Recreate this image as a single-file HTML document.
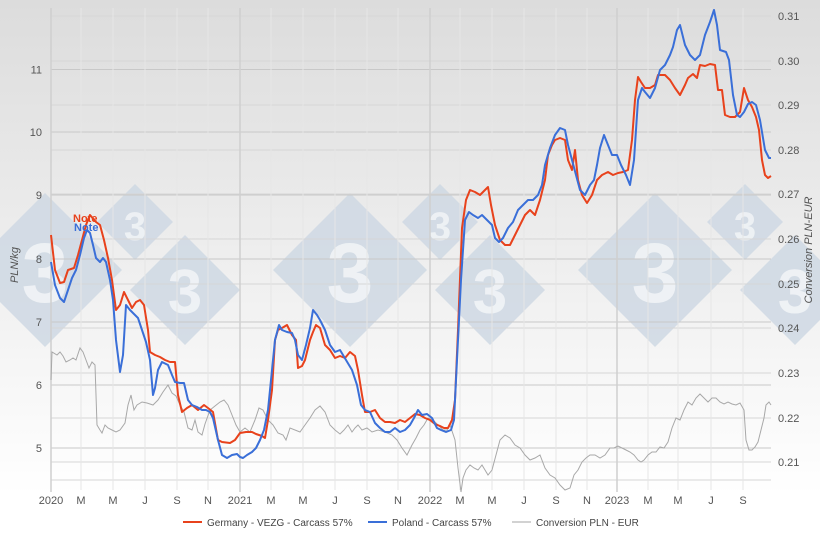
<!DOCTYPE html>
<html><head><meta charset="utf-8"><style>
body{margin:0;width:820px;height:533px;overflow:hidden;background:#fff;font-family:"Liberation Sans",sans-serif;}
</style></head><body>
<svg width="820" height="533" xmlns="http://www.w3.org/2000/svg" font-family="Liberation Sans, sans-serif">
<defs>
<linearGradient id="bg" x1="0" y1="0" x2="0" y2="1">
<stop offset="0" stop-color="#dcdcdc"/><stop offset="1" stop-color="#ffffff"/>
</linearGradient>
<g id="wm">
<polygon points="45,193 122,270 45,347 -32,270" fill="#cfd9e4"/>
<polygon points="135,184 173,222 135,260 97,222" fill="#cfd9e4"/>
<polygon points="185,235 240,290 185,345 130,290" fill="#cfd9e4"/>
<text x="45" y="302" font-size="84" font-weight="bold" fill="#eef2f6" text-anchor="middle">3</text>
<text x="135" y="240" font-size="40" font-weight="bold" fill="#eef2f6" text-anchor="middle">3</text>
<text x="185" y="313" font-size="62" font-weight="bold" fill="#eef2f6" text-anchor="middle">3</text>
</g>
</defs>
<rect x="0" y="0" width="820" height="533" fill="#fff"/>
<rect x="0" y="0" width="820" height="495" fill="url(#bg)"/>
<g opacity="0.85">
<use href="#wm" x="0"/><use href="#wm" x="305"/><use href="#wm" x="610"/>
</g>
<g stroke="#c8c8c8" stroke-width="1">
<line x1="51" x2="771" y1="69.5" y2="69.5"/><line x1="51" x2="771" y1="132" y2="132"/>
<line x1="51" x2="771" y1="195" y2="195"/><line x1="51" x2="771" y1="259" y2="259"/>
<line x1="51" x2="771" y1="322" y2="322"/><line x1="51" x2="771" y1="385" y2="385"/>
<line x1="51" x2="771" y1="448" y2="448"/>
</g>
<g stroke="#d6d6d6" stroke-width="1">
<line x1="51" x2="771" y1="16" y2="16"/><line x1="51" x2="771" y1="61" y2="61"/>
<line x1="51" x2="771" y1="105" y2="105"/><line x1="51" x2="771" y1="150" y2="150"/>
<line x1="51" x2="771" y1="194" y2="194"/><line x1="51" x2="771" y1="239" y2="239"/>
<line x1="51" x2="771" y1="284" y2="284"/><line x1="51" x2="771" y1="328" y2="328"/>
<line x1="51" x2="771" y1="373" y2="373"/><line x1="51" x2="771" y1="418" y2="418"/>
<line x1="51" x2="771" y1="462" y2="462"/><line x1="51" x2="771" y1="480" y2="480"/>
</g>
<g stroke="#e6e6e6" stroke-width="1">
<line x1="81" x2="81" y1="8" y2="490"/><line x1="113" x2="113" y1="8" y2="490"/>
<line x1="145" x2="145" y1="8" y2="490"/><line x1="177" x2="177" y1="8" y2="490"/>
<line x1="208" x2="208" y1="8" y2="490"/><line x1="271" x2="271" y1="8" y2="490"/>
<line x1="303" x2="303" y1="8" y2="490"/><line x1="335" x2="335" y1="8" y2="490"/>
<line x1="367" x2="367" y1="8" y2="490"/><line x1="398" x2="398" y1="8" y2="490"/>
<line x1="460" x2="460" y1="8" y2="490"/><line x1="492" x2="492" y1="8" y2="490"/>
<line x1="524" x2="524" y1="8" y2="490"/><line x1="556" x2="556" y1="8" y2="490"/>
<line x1="587" x2="587" y1="8" y2="490"/><line x1="648" x2="648" y1="8" y2="490"/>
<line x1="678" x2="678" y1="8" y2="490"/><line x1="711" x2="711" y1="8" y2="490"/>
<line x1="743" x2="743" y1="8" y2="490"/>
</g>
<g stroke="#cfcfcf" stroke-width="1.5">
<line x1="51" x2="51" y1="8" y2="492"/><line x1="240" x2="240" y1="8" y2="492"/>
<line x1="430" x2="430" y1="8" y2="492"/><line x1="617" x2="617" y1="8" y2="492"/>
</g>
<g font-size="11" fill="#555" text-anchor="end">
<text x="42" y="73.5">11</text><text x="42" y="136">10</text><text x="42" y="199">9</text>
<text x="42" y="263">8</text><text x="42" y="326">7</text><text x="42" y="389">6</text><text x="42" y="452">5</text>
</g>
<g font-size="11" fill="#555">
<text x="778" y="20">0.31</text><text x="778" y="65">0.30</text><text x="778" y="109">0.29</text>
<text x="778" y="154">0.28</text><text x="778" y="198">0.27</text><text x="778" y="243">0.26</text>
<text x="778" y="288">0.25</text><text x="778" y="332">0.24</text><text x="778" y="377">0.23</text>
<text x="778" y="422">0.22</text><text x="778" y="466">0.21</text>
</g>
<g font-size="11" fill="#555" text-anchor="middle">
<text x="51" y="504">2020</text><text x="81" y="504">M</text><text x="113" y="504">M</text><text x="145" y="504">J</text>
<text x="177" y="504">S</text><text x="208" y="504">N</text><text x="240" y="504">2021</text><text x="271" y="504">M</text>
<text x="303" y="504">M</text><text x="335" y="504">J</text><text x="367" y="504">S</text><text x="398" y="504">N</text>
<text x="430" y="504">2022</text><text x="460" y="504">M</text><text x="492" y="504">M</text><text x="524" y="504">J</text>
<text x="556" y="504">S</text><text x="587" y="504">N</text><text x="617" y="504">2023</text><text x="648" y="504">M</text>
<text x="678" y="504">M</text><text x="711" y="504">J</text><text x="743" y="504">S</text>
</g>
<text transform="translate(18,265) rotate(-90)" font-size="11" font-style="italic" fill="#555" text-anchor="middle">PLN/kg</text>
<text transform="translate(812,250) rotate(-90)" font-size="11" font-style="italic" fill="#555" text-anchor="middle">Conversion PLN-EUR</text>
<polyline fill="none" stroke="#a8a8a8" stroke-width="1" points="51,380 52,352 57,355 60,352 63,356 66,362 70,360 73,358 76,360 80,348 83,352 86,360 89,368 92,362 95,365 97,425 100,430 102,433 105,425 108,428 112,430 116,432 120,430 125,423 128,405 131,395 134,410 137,405 142,402 147,403 153,405 158,400 163,392 168,385 172,393 176,396 180,405 184,412 188,428 192,430 195,420 198,432 202,435 205,424 210,410 215,406 220,402 224,400 228,405 232,415 236,425 240,432 245,428 250,432 255,420 259,408 263,410 268,420 273,425 278,433 283,435 286,440 290,428 295,430 300,432 305,425 310,418 315,410 320,406 325,412 330,425 335,430 340,434 344,430 348,425 352,432 355,428 358,425 362,430 367,428 372,432 378,430 385,432 392,435 397,440 402,448 407,455 412,445 416,438 420,430 424,425 428,418 433,420 438,425 443,430 447,430 450,425 455,440 458,468 461,492 463,478 466,470 470,465 474,468 478,470 482,465 488,475 492,470 496,455 500,440 505,435 510,438 515,445 520,448 525,455 530,460 535,458 540,455 545,468 550,475 555,478 560,485 565,490 570,488 574,475 578,470 582,462 586,458 590,455 595,455 600,458 605,455 610,448 614,448 618,446 622,448 626,450 630,452 634,455 638,460 641,462 644,460 648,455 652,452 656,452 660,447 664,448 668,442 672,428 676,418 680,420 684,410 688,402 692,405 696,398 700,394 704,398 708,402 712,398 716,398 720,402 724,404 728,402 732,404 736,405 740,403 744,410 746,440 749,450 752,450 755,447 758,442 761,430 764,418 766,405 769,402 771,405"/>
<polyline fill="none" stroke="#e8421c" stroke-width="2" stroke-linejoin="round" points="51,235 55,270 60,283 64,282 68,270 74,268 78,255 82,240 86,225 90,215 96,222 100,225 104,240 108,258 112,280 116,310 120,305 124,292 128,300 132,308 136,302 140,300 144,305 148,330 150,352 155,355 160,357 165,360 170,362 175,362 178,395 182,412 187,408 192,405 198,410 204,405 208,408 213,412 218,440 222,442 230,443 235,440 240,433 246,432 252,432 256,434 262,436 265,438 268,420 272,390 275,340 278,330 282,328 287,325 292,335 296,340 298,368 302,366 305,360 310,340 313,332 316,325 320,328 325,345 330,350 335,358 340,356 345,358 350,352 355,356 358,370 362,395 365,412 370,412 375,410 380,418 385,422 390,422 395,423 400,420 405,422 410,418 415,414 420,415 425,418 430,420 435,424 440,426 444,428 448,428 452,420 455,400 458,330 462,228 466,200 470,190 475,192 480,195 485,190 488,187 491,205 495,225 500,240 505,245 510,245 515,235 520,225 525,215 530,210 535,215 540,200 545,180 548,155 552,145 555,140 560,138 565,140 568,160 572,170 575,150 578,180 582,195 587,203 592,195 597,180 602,175 608,172 613,175 618,173 623,172 628,170 632,140 635,100 638,77 641,82 645,88 650,88 655,85 658,75 665,75 670,80 675,88 680,95 685,85 688,78 693,74 697,78 700,65 705,66 710,64 715,65 718,90 722,90 725,115 730,117 735,117 740,112 744,88 748,100 752,107 756,117 759,130 762,160 765,175 768,178 771,176"/>
<polyline fill="none" stroke="#3a6fd8" stroke-width="2" stroke-linejoin="round" points="51,262 55,285 60,298 64,302 68,290 72,278 76,270 80,255 84,238 87,230 90,233 93,245 96,258 100,262 103,258 106,262 110,280 113,300 116,340 120,372 123,355 126,305 130,310 135,315 138,318 142,330 146,342 150,360 153,395 155,388 158,370 162,362 168,365 172,375 175,382 180,383 184,383 188,400 192,405 197,407 202,410 206,410 210,412 213,418 218,440 222,455 227,458 232,455 237,454 240,457 243,458 247,455 252,452 256,448 260,440 264,430 268,410 271,380 275,340 279,325 282,330 287,332 292,333 295,340 298,355 302,360 306,345 310,328 313,310 317,315 320,320 325,330 330,345 335,352 340,350 346,360 352,370 357,385 361,405 365,410 370,412 375,423 380,428 385,432 390,432 395,428 400,432 405,430 410,425 414,418 418,410 422,415 427,414 432,418 437,428 441,430 446,432 451,430 454,420 457,360 461,280 465,220 469,212 473,215 478,218 482,215 487,220 492,225 495,238 499,242 503,238 508,228 513,222 518,210 523,205 528,200 533,200 538,195 542,185 545,165 550,148 555,135 560,128 565,130 568,145 572,160 576,175 580,190 585,195 590,185 594,180 597,165 600,148 604,135 608,145 612,155 617,155 621,165 626,175 630,185 634,160 638,100 642,88 645,92 650,98 655,88 660,70 665,65 670,55 673,47 677,30 680,25 685,45 690,55 695,60 700,55 705,35 710,22 714,10 717,25 720,50 726,52 729,60 733,95 737,115 740,117 744,112 748,104 752,102 756,105 760,120 765,150 769,158 771,158"/>
<text x="73" y="222" font-size="11" font-weight="bold" fill="#e8421c">Note</text>
<text x="74" y="231" font-size="11" font-weight="bold" fill="#3a6fd8">Note</text>
<g font-size="10" fill="#444">
<line x1="183" x2="202" y1="522" y2="522" stroke="#e8421c" stroke-width="2"/>
<text x="207" y="526">Germany - VEZG - Carcass 57%</text>
<line x1="368" x2="387" y1="522" y2="522" stroke="#3a6fd8" stroke-width="2"/>
<text x="392" y="526">Poland - Carcass 57%</text>
<line x1="512" x2="531" y1="522" y2="522" stroke="#c4c4c4" stroke-width="1.5"/>
<text x="536" y="526">Conversion PLN - EUR</text>
</g>
</svg>
</body></html>
